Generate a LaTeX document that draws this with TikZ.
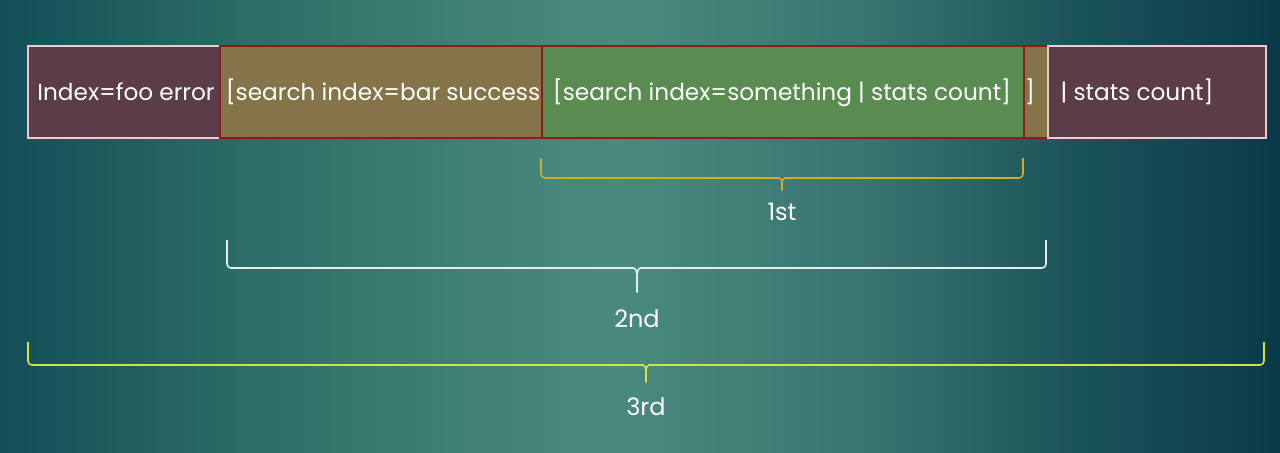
\documentclass[tikz,border=0pt]{standalone}
\usepackage{fontspec}
\setmainfont{Poppins}
\usetikzlibrary{calc}

\definecolor{bgedge}{HTML}{134E58}
\definecolor{bgleftmid}{HTML}{2A6B64}
\definecolor{bgnear}{HTML}{3D7E74}
\definecolor{bglight}{HTML}{4A8A7E}
\definecolor{bgrightmid}{HTML}{397470}
\definecolor{bgfar}{HTML}{1B5359}
\definecolor{bgdark}{HTML}{0A3A49}
\definecolor{errfill}{HTML}{5B3C48}
\definecolor{errline}{HTML}{EBCBD0}
\definecolor{okfill}{HTML}{85744A}
\definecolor{subfill}{HTML}{5A8C52}
\definecolor{redline}{HTML}{8E1A1A}
\definecolor{firstbr}{HTML}{D6A82C}
\definecolor{secondbr}{HTML}{E6ECEC}
\definecolor{thirdbr}{HTML}{D9E142}

% tikz maps 25bp..75bp of the shading onto the path
\pgfdeclarehorizontalshading{slidebg}{100bp}{color(0bp)=(bgedge); color(25bp)=(bgedge);
  color(34bp)=(bgleftmid); color(42bp)=(bgnear); color(49bp)=(bglight); color(59bp)=(bgrightmid);
  color(67bp)=(bgfar); color(75bp)=(bgdark); color(100bp)=(bgdark)}

\tikzset{
  segbox/.style={draw, line width=1pt, minimum height=46pt, inner sep=0pt, anchor=north west},
  segtext/.style={text=white, font=\fontsize{11.6pt}{14pt}\selectfont, inner sep=0pt, anchor=base},
  runbrace/.style={line width=0.8pt, rounded corners=2pt},
  runlabel/.style={text=white, font=\fontsize{12pt}{14pt}\selectfont, inner sep=0pt, anchor=base}
}

\begin{document}
\begin{tikzpicture}[x=0.5pt, y=-0.5pt]
\shade [shading=slidebg] (0, 0) rectangle (1280, 452);
\useasboundingbox (0, 0) rectangle (1280, 452);

% search string, split into pieces
\node [segbox, draw=errline, fill=errfill, minimum width=96pt] (foo) at (27, 45) {};
\node [segbox, draw=redline, fill=okfill, minimum width=414pt] (bar) at (219, 45) {};
\node [segbox, draw=redline, fill=subfill, minimum width=241pt] (sub) at (541, 45) {};
\node [segbox, draw=errline, fill=errfill, minimum width=109pt] (stats) at (1047, 45) {};

\node [segtext] (footxt) at (126, 100) {Index=foo error};
\node [segtext] (bartxt) at (383, 100) {[search index=bar success};
\node [segtext] (subtxt) at (782, 100) {[search index=something | stats count]};
\node [segtext] (closetxt) at (1030, 100) {]};
\node [segtext] (statstxt) at (1137, 100) {| stats count]};

% order of evaluation
\draw [runbrace, firstbr] (541, 158) -- (541, 178) -- (775, 178)
  .. controls (781, 178) and (782, 181) .. (782, 186) -- (782, 193) -- (782, 186)
  .. controls (782, 181) and (783, 178) .. (789, 178) -- (1023, 178) -- (1023, 158);
\node [runlabel] (first) at (782, 220) {1st};

\draw [runbrace, secondbr] (227, 240) -- (227, 268) -- (629, 268)
  .. controls (636, 268) and (637, 272) .. (637, 280) -- (637, 295) -- (637, 280)
  .. controls (637, 272) and (638, 268) .. (645, 268) -- (1046, 268) -- (1046, 240);
\node [runlabel] (second) at (637, 327) {2nd};

\draw [runbrace, thirdbr] (28, 342) -- (28, 365) -- (639, 365)
  .. controls (645, 365) and (646, 368) .. (646, 375) -- (646, 385) -- (646, 375)
  .. controls (646, 368) and (647, 365) .. (653, 365) -- (1264, 365) -- (1264, 342);
\node [runlabel] (third) at (646, 415) {3rd};
\end{tikzpicture}
\end{document}
